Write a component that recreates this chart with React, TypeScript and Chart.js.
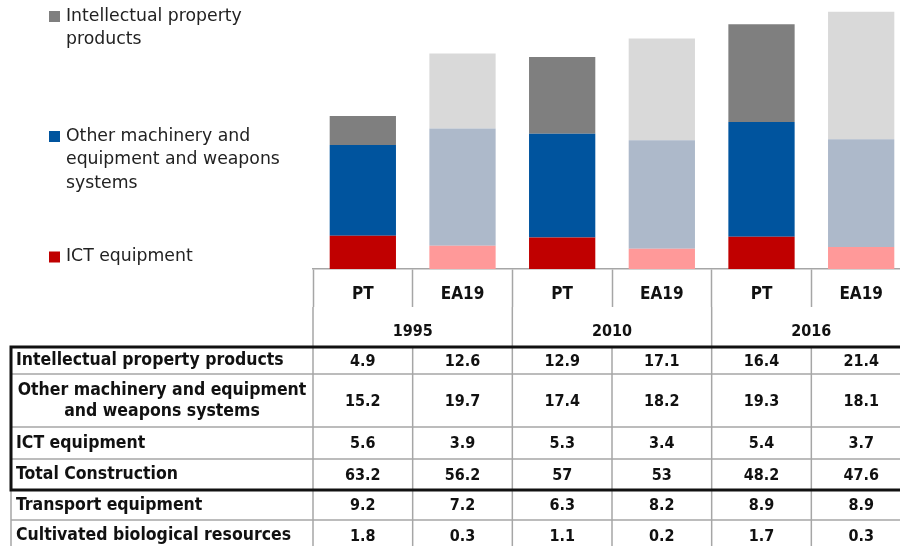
import React, { useEffect, useRef } from 'react';
import { Chart, registerables } from 'chart.js';

Chart.register(...registerables);

// ---- data ----
const categories = ['PT', 'EA19', 'PT', 'EA19', 'PT', 'EA19'];
const years = ['1995', '2010', '2016'];
const ictEquipment = [5.6, 3.9, 5.3, 3.4, 5.4, 3.7];
const otherMachinery = [15.2, 19.7, 17.4, 18.2, 19.3, 18.1];
const intellectualProperty = [4.9, 12.6, 12.9, 17.1, 16.4, 21.4];
const totalConstruction = [63.2, 56.2, 57, 53, 48.2, 47.6];
const transportEquipment = [9.2, 7.2, 6.3, 8.2, 8.9, 8.9];
const cultivatedBiological = [1.8, 0.3, 1.1, 0.2, 1.7, 0.3];

const seriesNames = ['ICT equipment', 'Other machinery and equipment and weapons systems', 'Intellectual property products'];

// ---- styles ----
const COLORS = {
  ict: ['#C00000', '#FF9999'],
  other: ['#00549E', '#ADB9CA'],
  ipp: ['#7F7F7F', '#D9D9D9'],
};
const alt = (pair: string[]) => categories.map((_, i) => pair[i % 2]);
const FONT_LEGEND = '"DejaVu Sans", Verdana, sans-serif';
const FONT_TABLE = '"DejaVu Sans Condensed", "DejaVu Sans", sans-serif';
const GRID_GREY = '#A6A6A6';

const tableRows = [
  { label: ['Intellectual property products'], values: intellectualProperty, center: false },
  { label: ['Other machinery and equipment', 'and weapons systems'], values: otherMachinery, center: true },
  { label: ['ICT equipment'], values: ictEquipment, center: false },
  { label: ['Total Construction'], values: totalConstruction, center: false },
  { label: ['Transport equipment'], values: transportEquipment, center: false },
  { label: ['Cultivated biological resources'], values: cultivatedBiological, center: false },
];
const rowEdges = [347, 374, 427, 459, 490, 520, 551];
const legendItems = [
  { lines: ['Intellectual property', 'products'], color: COLORS.ipp[0], y: 16.5 },
  { lines: ['Other machinery and', 'equipment and weapons', 'systems'], color: COLORS.other[0], y: 136.5 },
  { lines: ['ICT equipment'], color: COLORS.ict[0], y: 257 },
];

const tablePlugin = {
  id: 'tableAndLegend',
  afterDraw(chart: any) {
    const ctx: CanvasRenderingContext2D = chart.ctx;
    const xs = chart.scales.x;
    const area = chart.chartArea;
    const centers = categories.map((_, i) => xs.getPixelForValue(i));
    const half = (centers[1] - centers[0]) / 2;
    const bounds = [centers[0] - half, ...centers.map((c) => c + half)];
    const headerMid = area.bottom + 38;
    const tableTop = rowEdges[0];
    const tableLeft = 11;
    const right = chart.width + 5;

    ctx.save();
    // year group dividers
    ctx.strokeStyle = GRID_GREY;
    ctx.lineWidth = 1.5;
    [0, 2, 4, 6].forEach((b) => {
      ctx.beginPath();
      ctx.moveTo(bounds[b], headerMid);
      ctx.lineTo(bounds[b], tableTop);
      ctx.stroke();
    });
    // year labels
    ctx.fillStyle = '#111';
    ctx.font = `bold 16px ${FONT_TABLE}`;
    ctx.textAlign = 'center';
    ctx.textBaseline = 'middle';
    years.forEach((y, i) => {
      ctx.fillText(y, bounds[2 * i + 1], 332);
    });

    // table grid lines
    ctx.strokeStyle = GRID_GREY;
    ctx.lineWidth = 1.5;
    rowEdges.slice(1).forEach((y, i) => {
      if (i === 3) return;
      ctx.beginPath();
      ctx.moveTo(tableLeft, y);
      ctx.lineTo(right, y);
      ctx.stroke();
    });
    bounds.forEach((x) => {
      ctx.beginPath();
      ctx.moveTo(x, tableTop);
      ctx.lineTo(x, rowEdges[rowEdges.length - 1]);
      ctx.stroke();
    });
    ctx.beginPath();
    ctx.moveTo(tableLeft, rowEdges[4]);
    ctx.lineTo(tableLeft, rowEdges[6]);
    ctx.stroke();

    // thick frame
    ctx.strokeStyle = '#111';
    ctx.lineWidth = 3;
    ctx.strokeRect(tableLeft, tableTop, right - tableLeft, rowEdges[4] - tableTop);

    // texts
    ctx.fillStyle = '#111';
    tableRows.forEach((row, r) => {
      const top = rowEdges[r];
      const bottom = rowEdges[r + 1];
      const mid = (top + bottom) / 2;
      ctx.font = `bold 17.5px ${FONT_TABLE}`;
      const lh = 21;
      row.label.forEach((line, li) => {
        const y = mid + (li - (row.label.length - 1) / 2) * lh;
        if (row.center) {
          ctx.textAlign = 'center';
          ctx.fillText(line, (tableLeft + bounds[0]) / 2, y);
        } else {
          ctx.textAlign = 'left';
          ctx.fillText(line, 16, y);
        }
      });
      ctx.font = `bold 16px ${FONT_TABLE}`;
      ctx.textAlign = 'center';
      row.values.forEach((v, i) => {
        ctx.fillText(String(v), centers[i], mid + 1);
      });
    });

    // legend
    ctx.font = `17.3px ${FONT_LEGEND}`;
    ctx.textAlign = 'left';
    legendItems.forEach((item) => {
      ctx.fillStyle = item.color;
      ctx.fillRect(49, item.y - 5.5, 11, 11);
      ctx.fillStyle = '#222';
      item.lines.forEach((line, li) => {
        ctx.fillText(line, 66, item.y + li * 23.3);
      });
    });
    ctx.restore();
  },
};

export default function App() {
  const ref = useRef<HTMLCanvasElement>(null);
  useEffect(() => {
    if (!ref.current) return;
    const chart = new Chart(ref.current, {
      type: 'bar',
      data: {
        labels: categories,
        datasets: [
          { label: seriesNames[0], data: ictEquipment, backgroundColor: alt(COLORS.ict) },
          { label: seriesNames[1], data: otherMachinery, backgroundColor: alt(COLORS.other) },
          { label: seriesNames[2], data: intellectualProperty, backgroundColor: alt(COLORS.ipp) },
        ],
      },
      options: {
        responsive: false,
        animation: false,
        devicePixelRatio: 1,
        layout: { padding: { left: 313, right: 0, top: 1, bottom: 0 } },
        datasets: { bar: { categoryPercentage: 1, barPercentage: 0.665 } },
        plugins: { legend: { display: false }, tooltip: { enabled: false } },
        scales: {
          x: {
            stacked: true,
            offset: true,
            border: { display: true, color: GRID_GREY, width: 1.5 },
            grid: { offset: true, drawOnChartArea: false, drawTicks: true, tickLength: 38, tickColor: GRID_GREY, tickWidth: 1.5 },
            ticks: { font: { family: FONT_TABLE, size: 17, weight: 'bold' }, color: '#111', padding: -22.2, maxRotation: 0, autoSkip: false },
            afterFit: (s: any) => { s.height = 277; },
          },
          y: { stacked: true, display: false, min: 0, max: 45 },
        },
      },
      plugins: [tablePlugin],
    } as any);
    return () => chart.destroy();
  }, []);
  return (
    <div style={{ position: 'fixed', left: 0, top: 0, width: 900, height: 546, overflow: 'hidden', background: '#fff' }}>
      <canvas ref={ref} width={911} height={546} style={{ width: 911, height: 546, display: 'block' }} />
    </div>
  );
}
